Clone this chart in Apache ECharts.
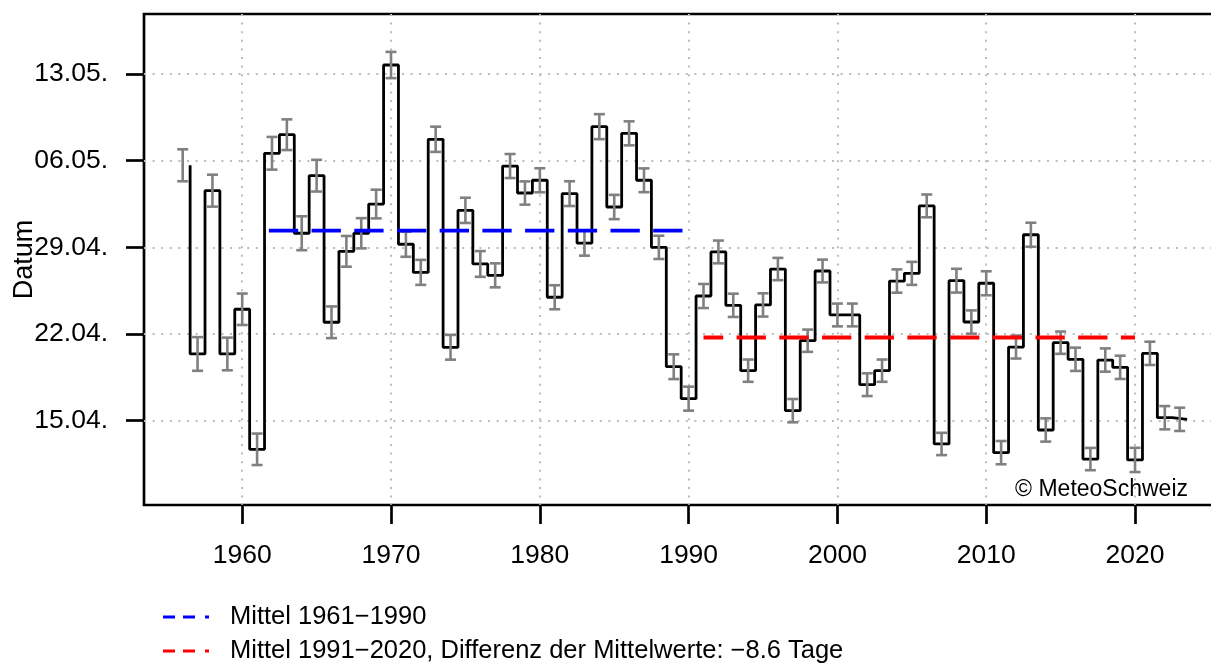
<!DOCTYPE html>
<html><head><meta charset="utf-8">
<script src="https://cdn.jsdelivr.net/npm/echarts@6/dist/echarts.min.js"></script>
<style>html,body{margin:0;padding:0;background:#fff;overflow:hidden}#c{width:1211px;height:665px}</style>
</head><body><div id="c"></div>
<script>
// Years of observation
const years = [1956,1957,1958,1959,1960,1961,1962,1963,1964,1965,1966,1967,1968,1969,
  1970,1971,1972,1973,1974,1975,1976,1977,1978,1979,1980,1981,1982,1983,1984,1985,1986,1987,1988,1989,
  1990,1991,1992,1993,1994,1995,1996,1997,1998,1999,2000,2001,2002,2003,2004,2005,2006,2007,2008,2009,
  2010,2011,2012,2013,2014,2015,2016,2017,2018,2019,2020,2021,2022,2023];
// Date as day counted from 1 April (15 = 15.04., 36 = 06.05.)
const values = [35.63,20.39,33.58,20.39,24.00,12.69,36.60,38.10,30.14,34.79,22.95,28.68,30.14,32.50,
  43.73,29.25,26.98,37.73,20.93,31.99,27.66,26.74,35.57,33.39,34.42,24.97,33.34,29.35,38.75,32.26,38.21,34.42,29.00,19.36,
  16.78,25.07,28.63,24.32,19.04,24.35,27.25,15.81,21.46,27.09,23.54,23.54,17.91,19.04,26.28,26.90,32.35,13.12,26.31,22.97,
  26.10,12.42,20.95,30.02,14.25,21.30,19.96,11.90,19.90,19.31,11.83,20.44,15.24,15.11];
// Half-length of the error bars, in days
const errors = [1.29,1.36,1.29,1.32,1.27,1.27,1.32,1.24,1.37,1.28,1.28,1.24,1.22,1.16,
  1.06,1.01,1.01,1.02,1.00,1.02,1.04,0.97,0.97,0.94,0.97,0.97,1.00,1.02,1.01,0.98,0.97,0.96,0.94,1.00,
  0.97,0.97,0.92,0.94,0.90,0.94,0.90,0.94,0.90,0.92,0.92,0.92,0.92,0.90,0.94,0.93,0.92,0.90,0.96,0.94,
  0.97,0.94,0.93,0.97,0.94,0.90,0.94,0.90,0.94,0.94,0.98,0.94,0.94,0.94];
const xTicks = [1960,1970,1980,1990,2000,2010,2020];
const yTicks = [15,22,29,36,43];
const yTickLabels = ['15.04.','22.04.','29.04.','06.05.','13.05.'];
const periodOld = [1961,1990];
const periodNew = [1991,2020];
const meanOld = 30.35;
const meanNew = 21.72;
const nameOld = 'Mittel 1961\u22121990';
const nameNew = 'Mittel 1991\u22122020, Differenz der Mittelwerte: \u22128.6 Tage';

const FONT = "'Liberation Sans', Arial, sans-serif";
const chart = echarts.init(document.getElementById('c'), null, {renderer:'canvas'});
const stepData = years.map((y,i)=>[y+0.5, values[i]]);
const errData = years.map((y,i)=>[y, values[i], errors[i]]);
const gridDots = {color:'#bcbcbc', width:2, type:[2,6.6]};
const legendIcon = 'path://M0,0h12v3h-12zM20,0h12v3h-12zM42,0h4v3h-4z';
const legendBase = {orient:'vertical', left:163, padding:0, itemGap:0, selectedMode:false,
    itemWidth:46, itemHeight:3, icon:legendIcon,
    textStyle:{fontSize:25.5, color:'#000', fontFamily:FONT, lineHeight:30, padding:[0,0,0,16]}};

chart.setOption({
  animation:false,
  backgroundColor:'#fff',
  textStyle:{fontFamily:FONT},
  title:{text:'\u00a9 MeteoSchweiz', right:23, top:478, padding:0,
    textStyle:{fontSize:23, fontWeight:'normal', color:'#000', fontFamily:FONT}},
  legend:[
    Object.assign({}, legendBase, {top:602, data:[nameOld]}),
    Object.assign({}, legendBase, {top:636, data:[nameNew]})
  ],
  grid:{left:144, top:14, width:1076, height:491, show:true, borderColor:'#000', borderWidth:2.7,
    backgroundColor:'transparent', outerBoundsMode:'none', containLabel:false},
  xAxis:{type:'value', min:1953.4, max:2025.71,
    axisLine:{show:false},
    axisTick:{show:true, customValues:xTicks, length:19, lineStyle:{color:'#000', width:2.7}},
    axisLabel:{customValues:xTicks, margin:37, fontSize:26.5, color:'#000', fontFamily:FONT,
      formatter:v=>String(v)},
    splitLine:{show:true, lineStyle:gridDots}},
  yAxis:{type:'value', min:8.19, max:47.85,
    name:'Datum', nameLocation:'middle', nameGap:106, nameRotate:90, nameMoveOverlap:false,
    nameTextStyle:{fontSize:27, color:'#000', fontFamily:FONT},
    axisLine:{show:false},
    axisTick:{show:true, customValues:yTicks, length:18, lineStyle:{color:'#000', width:2.7}},
    axisLabel:{customValues:yTicks, margin:36, fontSize:26.5, color:'#000', fontFamily:FONT,
      formatter:v=>yTickLabels[yTicks.indexOf(v)]},
    splitLine:{show:true, lineStyle:gridDots}},
  series:[
    {type:'line', name:'Datum', step:'start', data:stepData, showSymbol:false, z:2,
      lineStyle:{color:'#000', width:2.8}, itemStyle:{color:'#000'}},
    {type:'custom', name:'Fehler', data:errData, z:3,
      renderItem:(params, api)=>{
        const x=api.value(0), v=api.value(1), e=api.value(2);
        const t=api.coord([x, v+e]), b=api.coord([x, v-e]);
        const hw=5.5, st={stroke:'#808080', lineWidth:2.6};
        return {type:'group', children:[
          {type:'line', shape:{x1:t[0], y1:t[1], x2:b[0], y2:b[1]}, style:st},
          {type:'line', shape:{x1:t[0]-hw, y1:t[1], x2:t[0]+hw, y2:t[1]}, style:st},
          {type:'line', shape:{x1:b[0]-hw, y1:b[1], x2:b[0]+hw, y2:b[1]}, style:st}
        ]};
      }},
    {type:'line', name:nameOld, data:[[periodOld[0], meanOld],[periodOld[1], meanOld]], showSymbol:false, z:4,
      color:'#0000ff', itemStyle:{color:'#0000ff'},
      lineStyle:{color:'#0000ff', width:3.8, type:[29.3,13.4], dashOffset:30.9}},
    {type:'line', name:nameNew, data:[[periodNew[0], meanNew],[periodNew[1], meanNew]], showSymbol:false, z:4,
      color:'#ff0000', itemStyle:{color:'#ff0000'},
      lineStyle:{color:'#ff0000', width:3.8, type:[29.3,13.4], dashOffset:9.6}}
  ]
});
</script></body></html>
